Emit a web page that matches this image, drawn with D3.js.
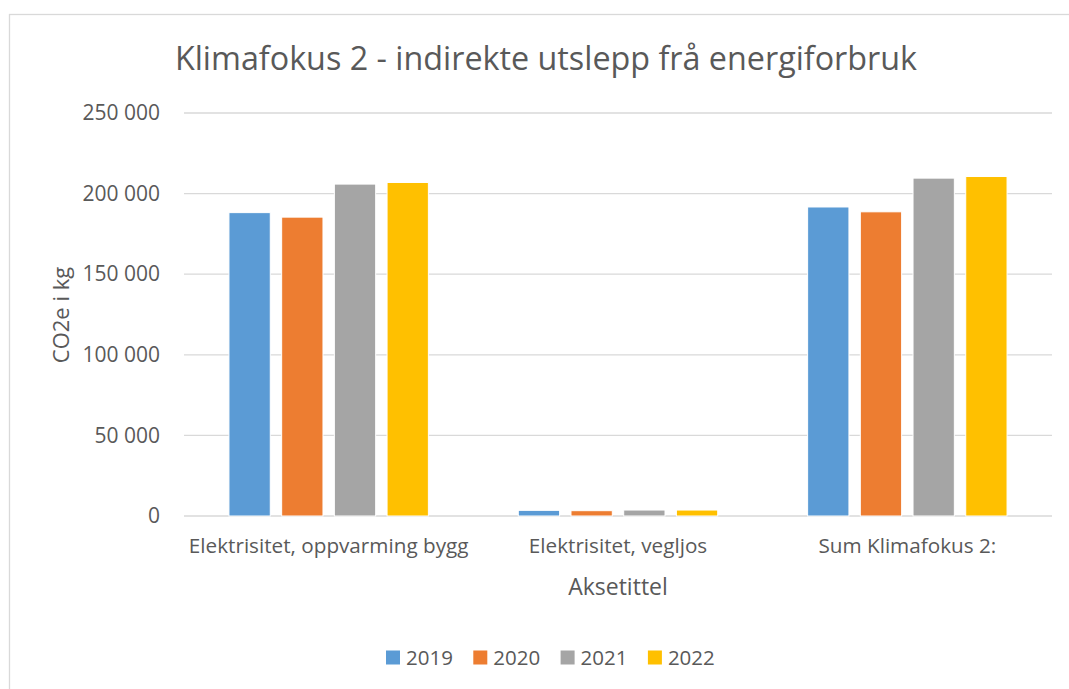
<!DOCTYPE html>
<html>
<head>
<meta charset="utf-8">
<script src="https://cdn.jsdelivr.net/npm/d3@7"></script>
<style>
  body { margin: 0; background: #fff; }
  text { font-family: "Open Sans", sans-serif; fill: #595959; }
</style>
</head>
<body>
<div id="chart"></div>
<script>
var categories = ["Elektrisitet, oppvarming bygg", "Elektrisitet, vegljos", "Sum Klimafokus 2:"];
var years = ["2019", "2020", "2021", "2022"];
var values2019 = [188200, 3500, 191700];
var values2020 = [185400, 3300, 188700];
var values2021 = [205900, 3700, 209600];
var values2022 = [206900, 3700, 210600];
var yTicks = [0, 50000, 100000, 150000, 200000, 250000];
var colors = ["#5B9BD5", "#ED7D31", "#A5A5A5", "#FFC000"];

var series = [values2019, values2020, values2021, values2022];
var data = categories.map(function(c, i) {
  return { name: c, vals: years.map(function(y, j) { return { year: y, value: series[j][i] }; }) };
});

var width = 1069, height = 689;
var margin = {top: 113, right: 17, bottom: 173, left: 184};

var svg = d3.select("#chart")
  .append("svg")
  .attr("width", width)
  .attr("height", height);

// chart frame
svg.append("rect")
  .attr("x", 9.5).attr("y", 14.5)
  .attr("width", 1080).attr("height", 700)
  .attr("fill", "none")
  .attr("stroke", "#d9d9d9")
  .attr("stroke-width", 1.3);

var x0 = d3.scaleBand()
  .domain(categories)
  .range([margin.left, width - margin.right])
  .padding(0);

var x1 = d3.scaleBand()
  .domain(years)
  .range([0, x0.bandwidth()])
  .paddingInner(0.216)
  .paddingOuter(0.853);

var y = d3.scaleLinear()
  .domain([0, 250000])
  .range([height - margin.bottom, margin.top]);

var fmt = function(d) { return d3.format(",")(d).replace(/,/g, " "); };

// gridlines
svg.append("g")
  .selectAll("line")
  .data(yTicks)
  .enter()
  .append("line")
  .attr("x1", margin.left)
  .attr("x2", width - margin.right)
  .attr("y1", function(d) { return y(d); })
  .attr("y2", function(d) { return y(d); })
  .attr("stroke", "#d9d9d9")
  .attr("stroke-width", 1.3);

// y axis labels
var yAxis = d3.axisLeft(y).tickValues(yTicks).tickFormat(fmt).tickSize(0).tickPadding(24);
var yg = svg.append("g")
  .attr("transform", "translate(" + margin.left + ",0)")
  .call(yAxis);
yg.select(".domain").remove();
yg.selectAll("text")
  .attr("font-size", "21px")
  .attr("fill", "#595959")
  .style("font-family", "Open Sans, sans-serif");

// bars
var groups = svg.append("g")
  .selectAll("g")
  .data(data)
  .enter()
  .append("g")
  .attr("transform", function(d) { return "translate(" + x0(d.name) + ",0)"; });

groups.selectAll("rect")
  .data(function(d) { return d.vals; })
  .enter()
  .append("rect")
  .attr("x", function(d) { return x1(d.year); })
  .attr("y", function(d) { return y(d.value); })
  .attr("width", x1.bandwidth())
  .attr("height", function(d) { return y(0) - y(d.value); })
  .attr("fill", function(d, i) { return colors[i]; })
  .attr("stroke", "#fff")
  .attr("stroke-width", 1);

// x axis labels
var xAxis = d3.axisBottom(x0).tickSize(0).tickPadding(22);
var xg = svg.append("g")
  .attr("transform", "translate(0," + y(0) + ")")
  .call(xAxis);
xg.select(".domain").remove();
xg.selectAll("text")
  .attr("font-size", "20.7px")
  .attr("fill", "#595959")
  .style("font-family", "Open Sans, sans-serif");

// title
svg.append("text")
  .attr("x", 546)
  .attr("y", 70)
  .attr("text-anchor", "middle")
  .attr("font-size", "32.3px")
  .text("Klimafokus 2 - indirekte utslepp frå energiforbruk");

// axis titles
svg.append("text")
  .attr("x", 618)
  .attr("y", 595)
  .attr("text-anchor", "middle")
  .attr("font-size", "23px")
  .text("Aksetittel");

svg.append("text")
  .attr("transform", "translate(69,315) rotate(-90)")
  .attr("text-anchor", "middle")
  .attr("font-size", "22px")
  .text("CO2e i kg");

// legend
var legend = svg.append("g")
  .selectAll("g")
  .data(years)
  .enter()
  .append("g")
  .attr("transform", function(d, i) { return "translate(" + (386 + i * 87.3) + ",650.5)"; });

legend.append("rect")
  .attr("width", 14)
  .attr("height", 14)
  .attr("fill", function(d, i) { return colors[i]; });

legend.append("text")
  .attr("x", 20)
  .attr("y", 14.5)
  .attr("font-size", "20.5px")
  .text(function(d) { return d; });
</script>
</body>
</html>
